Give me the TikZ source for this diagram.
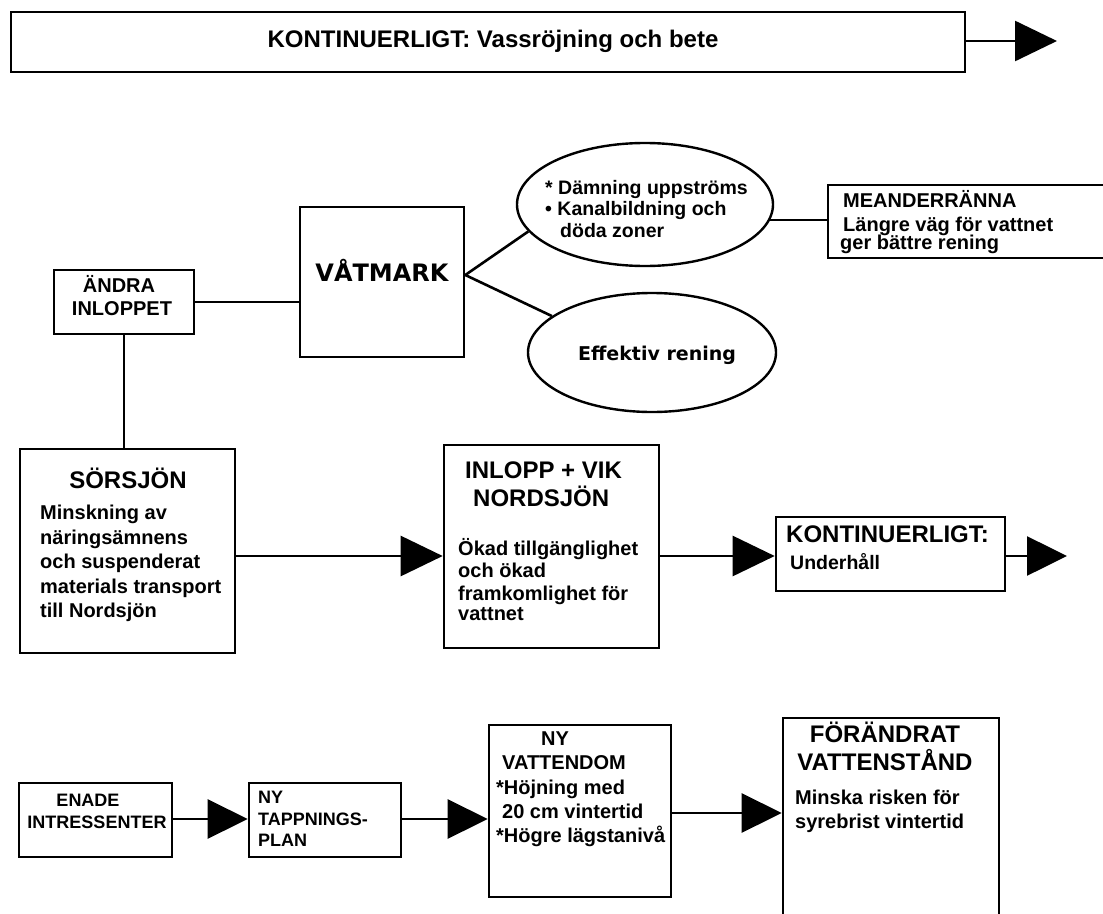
\documentclass[tikz,border=0pt]{standalone}
\usepackage{fontspec}
\setmainfont{Liberation Sans}
\newfontfamily\dvs{DejaVu Sans}
\usetikzlibrary{arrows.meta,shapes.geometric}
\newcommand\fsz[1]{\fontsize{#1bp}{#1bp}\selectfont}
\tikzset{
  box/.style={draw, line width=2.6bp, inner sep=0pt},
  ell/.style={draw, ellipse, line width=2.4bp, inner sep=0pt},
  conn/.style={line width=2.6bp},
  arr/.style={line width=2.6bp, -{Triangle[length=42bp,width=40bp]}},
  arrs/.style={line width=2.6bp, -{Triangle[length=40bp,width=39bp]}},
  tl/.style={inner sep=0pt, anchor=mid west, yshift=-3bp},
  tc/.style={inner sep=0pt, anchor=mid, yshift=-3bp},
  body/.style={font=\fsz{20}\bfseries},
  bodys/.style={font=\fsz{18}\bfseries},
  head/.style={font=\fsz{24}\bfseries},
}
\begin{document}
\begin{tikzpicture}[x=1bp,y=-1bp]
\useasboundingbox (0,0) rectangle (1103,914);
\fill[white] (0,0) rectangle (1103,914);
\clip (0,0) rectangle (1103,914);

% ---------- top bar ----------
\node[box, minimum width=954bp, minimum height=60bp] (top) at (488,42) {};
\node[tc, font=\fsz{24}\bfseries] (toptxt) at (493,42) {KONTINUERLIGT: Vassröjning och bete};
\coordinate (topend) at (1057,41);
\draw[arr] (top.east |- topend) -- (topend);

% ---------- upper group ----------
\node[box, minimum width=140bp, minimum height=64bp] (andra) at (124,302) {};
\node[tc, body] (andra1) at (119,287) {ÄNDRA};
\node[tc, body] (andra2) at (122,310) {INLOPPET};

\node[box, minimum width=164bp, minimum height=150bp] (vat) at (382,282) {};
\node[tc, font=\dvs\fsz{24}\bfseries] (vattxt) at (382,276) {VÅTMARK};

\node[ell, minimum width=256bp, minimum height=123bp] (e1) at (645,204.5) {};
\node[tl, font=\fsz{19.5}\bfseries] (e1a) at (545,189) {* Dämning uppströms};
\node[tl, font=\fsz{19.5}\bfseries] (e1b) at (545,210) {• Kanalbildning och};
\node[tl, font=\fsz{19.5}\bfseries] (e1c) at (560,232) {döda zoner};

\node[ell, minimum width=248bp, minimum height=119bp] (e2) at (652,352.5) {};
\node[tc, font=\dvs\fsz{19}\bfseries] (e2a) at (657,355) {Effektiv rening};

\node[box, minimum width=280bp, minimum height=73bp] (mb) at (968,221.5) {};
\node[tl, body] (mb1) at (843,202) {MEANDERRÄNNA};
\node[tl, body] (mb2) at (843,226) {Längre väg för vattnet};
\node[tl, body] (mb3) at (840,244) {ger bättre rening};

\coordinate (vj) at ([yshift=7bp]vat.east);
\draw[conn] (andra.east) -- (andra.east -| vat.west);
\draw[conn] (vj) -- (e1.193);
\draw[conn] (vj) -- (e2.160.5);
\draw[conn] (e1.-7) -- (e1.-7 -| mb.west);

% ---------- middle row ----------
\node[box, minimum width=215bp, minimum height=204bp] (sor) at (127.5,551) {};
\node[tc, head] (sor0) at (128,483) {SÖRSJÖN};
\node[tl, body] (sor1) at (40,514) {Minskning av};
\node[tl, body] (sor2) at (40,538.5) {näringsämnens};
\node[tl, body] (sor3) at (40,563) {och suspenderat};
\node[tl, body] (sor4) at (40,587.5) {materials transport};
\node[tl, body] (sor5) at (40,612) {till Nordsjön};

\draw[conn] (andra.south) -- (andra.south |- sor.north);

\node[box, minimum width=215bp, minimum height=203bp] (inl) at (551.5,546.5) {};
\node[tl, head] (inl0) at (465,473) {INLOPP + VIK};
\node[tl, head] (inl00) at (473,501) {NORDSJÖN};
\node[tl, body] (inl1) at (458,550) {Ökad tillgänglighet};
\node[tl, body] (inl2) at (458,572) {och ökad};
\node[tl, body] (inl3) at (458,595) {framkomlighet för};
\node[tl, body] (inl4) at (458,615) {vattnet};

\node[box, minimum width=229bp, minimum height=74bp] (kont) at (890.5,554) {};
\node[tl, head] (kont1) at (786,537) {KONTINUERLIGT:};
\node[tl, font=\fsz{19.5}\bfseries] (kont2) at (790,564) {Underhåll};

\coordinate (rowB) at (0,556);
\coordinate (kend) at (1067,556);
\draw[arr] (sor.east |- rowB) -- (inl.west |- rowB);
\draw[arr] (inl.east |- rowB) -- (kont.west |- rowB);
\draw[arrs] (kont.east |- rowB) -- (kend);

% ---------- bottom row ----------
\node[box, minimum width=153bp, minimum height=74bp] (enade) at (95.5,820) {};
\node[tc, bodys] (en1) at (88,801) {ENADE};
\node[tc, bodys] (en2) at (97,823) {INTRESSENTER};

\node[box, minimum width=152bp, minimum height=74bp] (tapp) at (325,820) {};
\node[tl, bodys] (tp1) at (258,798) {NY};
\node[tl, bodys] (tp2) at (258,820) {TAPPNINGS-};
\node[tl, bodys] (tp3) at (258,841) {PLAN};

\node[box, minimum width=182bp, minimum height=172bp] (vdom) at (580,811) {};
\node[tc, body] (vd0) at (555,740) {NY};
\node[tl, body] (vd00) at (502,764) {VATTENDOM};
\node[tl, body] (vd1) at (496,789) {*Höjning med};
\node[tl, body] (vd2) at (502,813) {20 cm vintertid};
\node[tl, body] (vd3) at (496,837) {*Högre lägstanivå};

\node[box, minimum width=216bp, minimum height=207bp] (forb) at (891,821.5) {};
\node[tc, head] (fo1) at (885,737) {FÖRÄNDRAT};
\node[tc, head] (fo2) at (885,765) {VATTENSTÅND};
\node[tl, body] (fo3) at (795,799) {Minska risken för};
\node[tl, body] (fo4) at (795,823) {syrebrist vintertid};

\coordinate (rowC) at (0,819);
\coordinate (rowD) at (0,813);
\draw[arrs] (enade.east |- rowC) -- (tapp.west |- rowC);
\draw[arrs] (tapp.east |- rowC) -- (vdom.west |- rowC);
\draw[arrs] (vdom.east |- rowD) -- (forb.west |- rowD);
\end{tikzpicture}
\end{document}
